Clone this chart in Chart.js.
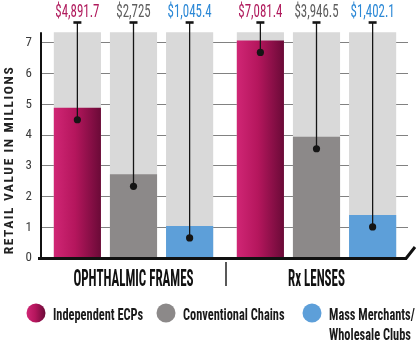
<!DOCTYPE html>
<html>
<head>
<meta charset="utf-8">
<script src="https://cdn.jsdelivr.net/npm/chart.js@4"></script>
<style>
  body { margin: 0; background: #fff; }
  #wrap { width: 420px; height: 342px; }
</style>
</head>
<body>
<div id="wrap"><canvas id="retailChart"></canvas></div>
<script>
// retail value, $ millions
const categories = ['OPHTHALMIC FRAMES', 'Rx LENSES'];
const seriesNames = ['Independent ECPs', 'Conventional Chains', 'Mass Merchants/\nWholesale Clubs'];
const independentECPs = [4891.7, 7081.4];
const conventionalChains = [2725, 3946.5];
const massMerchants = [1045.4, 1402.1];
const yTicks = [0, 1, 2, 3, 4, 5, 6, 7];   // thousands of millions
const columnTop = 7.35;                     // height of the grey backing columns
const yMax = 7.65;

const seriesValues = [independentECPs, conventionalChains, massMerchants];
const barColors = ['#b8175f', '#8c8989', '#5d9fd9'];
const labelColors = ['#b01a5c', '#5e5e5e', '#2b88d6'];
const FONT = '"Roboto Condensed", "Open Sans", sans-serif';

function magentaGradient(ctx, x0, x1) {
  const g = ctx.createLinearGradient(x0, 0, x1, 0);
  g.addColorStop(0, '#d02675');
  g.addColorStop(0.45, '#b5165d');
  g.addColorStop(1, '#6a0a37');
  return g;
}

// condensed text: squeeze horizontally around the anchor point
function squeezeText(ctx, text, x, y, font, color, sx, align) {
  ctx.save();
  ctx.font = font;
  ctx.fillStyle = color;
  ctx.textAlign = align || 'center';
  ctx.textBaseline = 'alphabetic';
  ctx.translate(x, y);
  ctx.scale(sx, 1);
  ctx.fillText(text, 0, 0);
  ctx.restore();
}

const datasets = seriesValues.map((vals, i) => ({
  label: seriesNames[i],
  data: vals.map(v => v / 1000),
  // scriptable so every bar gets its own options object (gradient set later)
  backgroundColor: () => barColors[i],
  stack: 's' + i,
  order: 0
}));
seriesValues.forEach((vals, i) => datasets.push({
  label: 'column',
  data: vals.map(() => columnTop),
  backgroundColor: '#d9d9d9',
  stack: 's' + i,
  order: 1
}));

const decorations = {
  id: 'decorations',
  beforeDatasetsDraw(chart) {
    const ctx = chart.ctx;
    chart.getDatasetMeta(0).data.forEach(bar => {
      bar.options.backgroundColor = magentaGradient(ctx, bar.x - bar.width / 2, bar.x + bar.width / 2);
    });
  },
  afterDraw(chart) {
    const ctx = chart.ctx;
    const area = chart.chartArea;
    const y = chart.scales.y;
    const x = chart.scales.x;
    const zeroY = y.getPixelForValue(0);

    // pins with value labels
    seriesValues.forEach((vals, i) => {
      chart.getDatasetMeta(i).data.forEach((bar, j) => {
        const dotY = bar.y + 12;
        ctx.save();
        ctx.strokeStyle = '#151515';
        ctx.lineWidth = 1.3;
        ctx.beginPath();
        ctx.moveTo(bar.x, area.top);
        ctx.lineTo(bar.x, dotY);
        ctx.stroke();
        ctx.lineWidth = 2.6;
        ctx.beginPath();
        ctx.moveTo(bar.x - 4, area.top - 0.5);
        ctx.lineTo(bar.x + 4, area.top - 0.5);
        ctx.stroke();
        ctx.fillStyle = '#151515';
        ctx.beginPath();
        ctx.arc(bar.x, dotY, 3.6, 0, Math.PI * 2);
        ctx.fill();
        ctx.restore();
        const txt = '$' + vals[j].toLocaleString('en-US');
        squeezeText(ctx, txt, bar.x, 16.7, '19px ' + FONT, labelColors[i], 0.68);
      });
    });

    // axes
    ctx.save();
    ctx.strokeStyle = '#111';
    ctx.lineWidth = 2;
    ctx.beginPath();
    ctx.moveTo(area.left - 1, y.getPixelForValue(columnTop));
    ctx.lineTo(area.left - 1, zeroY);
    ctx.stroke();
    ctx.lineWidth = 3;
    ctx.lineJoin = 'miter';
    ctx.beginPath();
    ctx.moveTo(area.left - 4, zeroY + 0.5);
    ctx.lineTo(area.right - 2, zeroY + 0.5);
    ctx.lineTo(area.right + 7, zeroY - 11);
    ctx.stroke();
    // divider between the two groups
    const mid = (x.getPixelForValue(0) + x.getPixelForValue(1)) / 2;
    ctx.lineWidth = 1.5;
    ctx.strokeStyle = '#222';
    ctx.beginPath();
    ctx.moveTo(mid + 1, zeroY + 4);
    ctx.lineTo(mid + 1, zeroY + 28);
    ctx.stroke();
    ctx.restore();

    // category names
    categories.forEach((c, i) => {
      squeezeText(ctx, c, x.getPixelForValue(i), zeroY + 27.7, 'bold 24.5px ' + FONT, '#111', 0.53);
    });

    // y axis title
    ctx.save();
    ctx.translate(13, 160);
    ctx.rotate(-Math.PI / 2);
    ctx.font = 'bold 13.5px ' + FONT;
    ctx.letterSpacing = '1.6px';
    ctx.fillStyle = '#222';
    ctx.textAlign = 'center';
    ctx.fillText('RETAIL VALUE IN MILLIONS', 0, 0);
    ctx.restore();

    // legend
    const legendX = [36, 166, 312];
    const legendY = 313;
    seriesNames.forEach((name, i) => {
      const cx = legendX[i];
      ctx.save();
      ctx.fillStyle = i === 0 ? magentaGradient(ctx, cx - 9.5, cx + 9.5) : barColors[i];
      ctx.beginPath();
      ctx.arc(cx, legendY, 9.5, 0, Math.PI * 2);
      ctx.fill();
      ctx.restore();
      name.split('\n').forEach((line, k) => {
        squeezeText(ctx, line, cx + 17, legendY + 7 + k * 20, 'bold 16.5px ' + FONT, '#1a1a1a', 0.75, 'left');
      });
    });
  }
};

new Chart(document.getElementById('retailChart'), {
  type: 'bar',
  data: { labels: categories, datasets: datasets },
  options: {
    responsive: true,
    maintainAspectRatio: false,
    animation: false,
    layout: { padding: { left: 0, top: 23, right: 12, bottom: 84 } },
    categoryPercentage: 0.92,
    barPercentage: 0.84,
    scales: {
      x: { display: false },
      y: {
        stacked: false,
        min: 0,
        max: yMax,
        z: 1,
        afterFit: s => { s.width = 42; },
        afterBuildTicks: s => { s.ticks = yTicks.map(v => ({ value: v })); },
        border: { display: false },
        grid: {
          drawTicks: false,
          lineWidth: 1,
          color: c => c.tick && c.tick.value === 0 ? 'rgba(0,0,0,0)' : 'rgba(45,45,45,0.6)'
        },
        ticks: {
          padding: 10,
          color: '#3a3a3a',
          font: { family: FONT, size: 13 }
        }
      }
    },
    plugins: {
      legend: { display: false },
      tooltip: { enabled: false }
    }
  },
  plugins: [decorations]
});
</script>
</body>
</html>
